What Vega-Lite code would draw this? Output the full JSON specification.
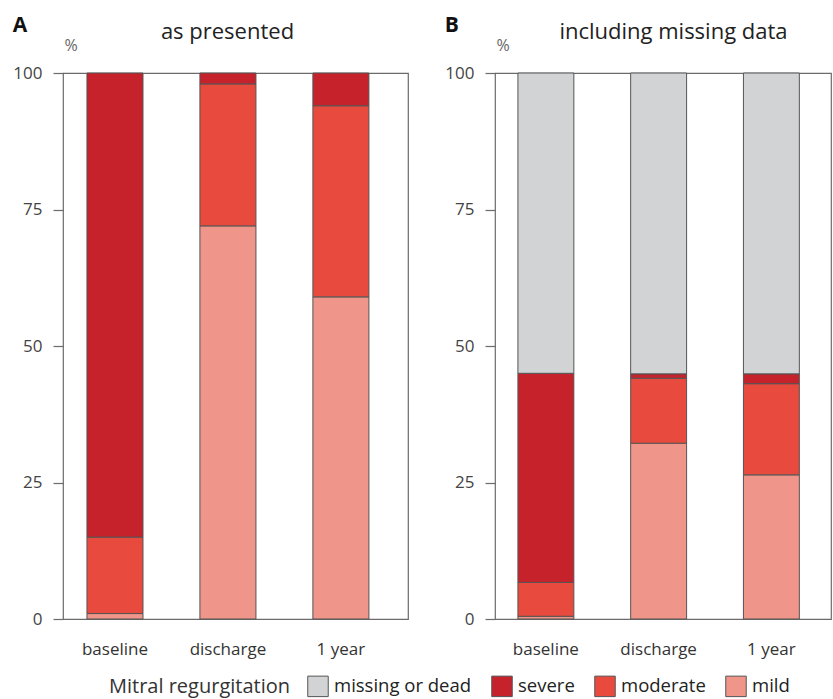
{
  "$schema": "https://vega.github.io/schema/vega-lite/v6.json",
  "background": "white",
  "padding": {"left": 12, "top": 14, "right": 0, "bottom": 0},
  "datasets": {
    "A": [
      {"time": "baseline", "level": "mild", "rank": 1, "pct": 1},
      {"time": "baseline", "level": "moderate", "rank": 2, "pct": 14},
      {"time": "baseline", "level": "severe", "rank": 3, "pct": 85},
      {"time": "discharge", "level": "mild", "rank": 1, "pct": 72},
      {"time": "discharge", "level": "moderate", "rank": 2, "pct": 26},
      {"time": "discharge", "level": "severe", "rank": 3, "pct": 2},
      {"time": "1 year", "level": "mild", "rank": 1, "pct": 59},
      {"time": "1 year", "level": "moderate", "rank": 2, "pct": 35},
      {"time": "1 year", "level": "severe", "rank": 3, "pct": 6}
    ],
    "B": [
      {"time": "baseline", "level": "mild", "rank": 1, "pct": 0.5},
      {"time": "baseline", "level": "moderate", "rank": 2, "pct": 6.2},
      {"time": "baseline", "level": "severe", "rank": 3, "pct": 38.3},
      {"time": "baseline", "level": "missing or dead", "rank": 4, "pct": 55},
      {"time": "discharge", "level": "mild", "rank": 1, "pct": 32.2},
      {"time": "discharge", "level": "moderate", "rank": 2, "pct": 11.9},
      {"time": "discharge", "level": "severe", "rank": 3, "pct": 0.8},
      {"time": "discharge", "level": "missing or dead", "rank": 4, "pct": 55.1},
      {"time": "1 year", "level": "mild", "rank": 1, "pct": 26.4},
      {"time": "1 year", "level": "moderate", "rank": 2, "pct": 16.7},
      {"time": "1 year", "level": "severe", "rank": 3, "pct": 1.8},
      {"time": "1 year", "level": "missing or dead", "rank": 4, "pct": 55.1}
    ]
  },
  "config": {
    "font": "Open Sans",
    "view": {"stroke": "#6b6b6b", "strokeWidth": 1.2},
    "title": {
      "anchor": "start",
      "frame": "bounds",
      "fontSize": 21,
      "fontWeight": "bold",
      "color": "#111111",
      "offset": -16
    }
  },
  "spacing": 35,
  "resolve": {"scale": {"color": "shared"}},
  "hconcat": [
    {
      "width": 345,
      "height": 546,
      "title": {"text": "A"},
      "data": {"name": "A"},
      "resolve": {"axis": {"x": "independent"}},
      "layer": [
        {
          "mark": {"type": "bar", "stroke": "#555555", "strokeWidth": 1},
          "encoding": {
            "x": {"field": "time", "type": "nominal", "sort": ["baseline", "discharge", "1 year"],
                  "scale": {"paddingInner": 0.504, "paddingOuter": 0.279, "align": 0.38},
                  "axis": {"title": null, "grid": false, "domain": false, "ticks": false, "labelAngle": 0,
                           "labelFontSize": 17, "labelColor": "#333333", "labelPadding": 22}},
            "y": {"field": "pct", "type": "quantitative", "stack": "zero",
                  "scale": {"domain": [0, 100], "nice": false},
                  "axis": {"title": "%", "values": [0, 25, 50, 75, 100], "grid": false, "domain": false,
                           "tickSize": 10, "tickColor": "#6b6b6b", "tickWidth": 1.2, "labelPadding": 11,
                           "labelFontSize": 17, "labelColor": "#444444", "titleAngle": 0, "titleAlign": "left",
                           "titleBaseline": "bottom", "titleX": 1, "titleY": -20, "titleFontSize": 16,
                           "titleFontWeight": "normal", "titleColor": "#666666"}},
            "order": {"field": "rank", "sort": "ascending"},
            "color": {"field": "level", "type": "nominal",
                      "scale": {"domain": ["missing or dead", "severe", "moderate", "mild"],
                                "range": ["#d1d3d5", "#c6222b", "#e84b3d", "#f0958a"]},
                      "legend": {
                        "title": "Mitral regurgitation",
                        "orient": "none",
                        "legendX": 46,
                        "legendY": 602,
                        "padding": 0,
                        "direction": "horizontal",
                        "titleOrient": "left",
                        "titleFontSize": 20,
                        "titleFontWeight": "normal",
                        "titleColor": "#333333",
                        "titlePadding": 16,
                        "titleLimit": 400,
                        "labelLimit": 300,
                        "labelFontSize": 18.5,
                        "labelColor": "#222222",
                        "labelOffset": 5,
                        "symbolType": "square",
                        "symbolSize": 420,
                        "symbolStrokeColor": "#666666",
                        "symbolStrokeWidth": 1,
                        "columnPadding": 17
                      }}
          }
        },
        {
          "mark": {"type": "bar", "opacity": 0},
          "encoding": {
            "x": {"field": "time", "type": "nominal", "sort": ["baseline", "discharge", "1 year"],
                  "axis": {"orient": "top", "title": "as presented", "labels": false, "ticks": false, "domain": false,
                           "grid": false, "titleFontSize": 22, "titleFontWeight": "normal", "titleColor": "#222222",
                           "titlePadding": 30, "titleX": 164, "titleAlign": "center"}}
          }
        }
      ]
    },
    {
      "width": 336,
      "height": 546,
      "title": {"text": "B"},
      "data": {"name": "B"},
      "resolve": {"axis": {"x": "independent"}},
      "layer": [
        {
          "mark": {"type": "bar", "stroke": "#555555", "strokeWidth": 1},
          "encoding": {
            "x": {"field": "time", "type": "nominal", "sort": ["baseline", "discharge", "1 year"],
                  "scale": {"paddingInner": 0.504, "paddingOuter": 0.242, "align": 0.42},
                  "axis": {"title": null, "grid": false, "domain": false, "ticks": false, "labelAngle": 0,
                           "labelFontSize": 17, "labelColor": "#333333", "labelPadding": 22}},
            "y": {"field": "pct", "type": "quantitative", "stack": "zero",
                  "scale": {"domain": [0, 100], "nice": false},
                  "axis": {"title": "%", "values": [0, 25, 50, 75, 100], "grid": false, "domain": false,
                           "tickSize": 10, "tickColor": "#6b6b6b", "tickWidth": 1.2, "labelPadding": 11,
                           "labelFontSize": 17, "labelColor": "#444444", "titleAngle": 0, "titleAlign": "left",
                           "titleBaseline": "bottom", "titleX": 1, "titleY": -20, "titleFontSize": 16,
                           "titleFontWeight": "normal", "titleColor": "#666666"}},
            "order": {"field": "rank", "sort": "ascending"},
            "color": {"field": "level", "type": "nominal"}
          }
        },
        {
          "mark": {"type": "bar", "opacity": 0},
          "encoding": {
            "x": {"field": "time", "type": "nominal", "sort": ["baseline", "discharge", "1 year"],
                  "axis": {"orient": "top", "title": "including missing data", "labels": false, "ticks": false,
                           "domain": false, "grid": false, "titleFontSize": 22, "titleFontWeight": "normal",
                           "titleColor": "#222222", "titlePadding": 30, "titleX": 178, "titleAlign": "center"}}
          }
        }
      ]
    }
  ]
}
